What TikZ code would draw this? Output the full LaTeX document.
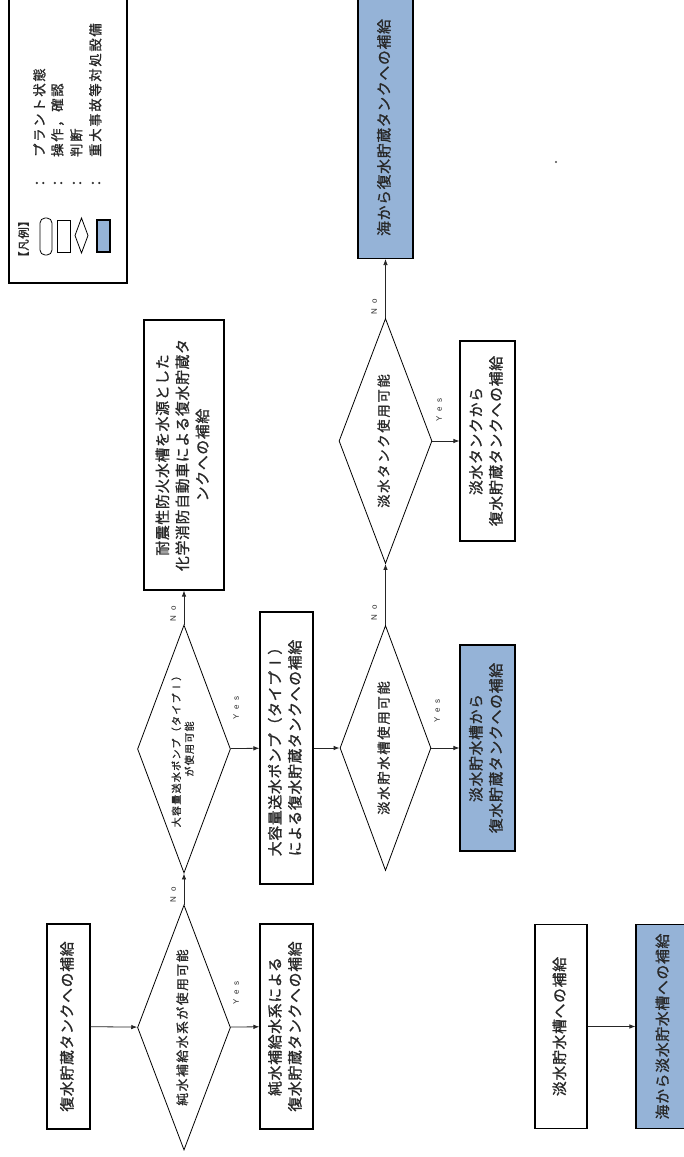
\documentclass[tikz,border=0pt]{standalone}
\usepackage{fontspec}
\usepackage{graphicx}
\usetikzlibrary{shapes.geometric,arrows.meta}
\newfontfamily\jpf[LetterSpace=5,FakeBold=1.2]{Noto Sans CJK JP}
\newfontfamily\jpl[LetterSpace=13,FakeBold=1.2]{Noto Sans CJK JP}
\newfontfamily\lblf[LetterSpace=60]{Liberation Sans}
\newcommand\vtext[1]{\rotatebox{90}{\begin{tabular}{@{}c@{}}#1\end{tabular}}}
\definecolor{seablue}{RGB}{149,179,215}
\definecolor{txt}{RGB}{40,40,40}
\begin{document}
\begin{tikzpicture}[x=1pt,y=-1pt,
  box/.style={draw=black,line width=1.1pt,fill=white,inner sep=0pt,text=txt,
     font=\jpf\fontsize{14.8}{20}\selectfont},
  seabox/.style={box,fill=seablue},
  dia/.style={draw=black,shape=diamond,aspect=0.38,inner sep=0pt,line width=0.8pt,
     minimum width=93pt,minimum height=245pt,text=txt,font=\jpl\fontsize{13.3}{16}\selectfont},
  arr/.style={-{Latex[length=6pt,width=4.5pt]},line width=0.8pt,draw=black!85},
  lbl/.style={inner sep=0pt,text=txt,font=\lblf\fontsize{8}{9}\selectfont},
  legtxt/.style={inner sep=0pt,text=txt,font=\jpl\fontsize{13.3}{15}\selectfont}]
\useasboundingbox (0,0) rectangle (684,1157);
\fill[white] (0,0) rectangle (684,1157);

% legend
\node[draw=black,line width=1.1pt,fill=white,minimum width=118pt,minimum height=286pt,inner sep=0pt] (legend) at (68,140) {};
\node[legtxt,font=\jpf\fontsize{11.5}{13}\selectfont] (legh) at (25,239) {\vtext{【凡例】}};
\draw[line width=0.8pt,rounded corners=5pt] (40,218) rectangle (52,255);
\draw[line width=0.8pt] (57,220) rectangle (70,252);
\draw[line width=0.8pt] (81.5,218) -- (88,235.5) -- (81.5,253) -- (75,235.5) -- cycle;
\draw[line width=1.1pt,fill=seablue] (97,220) rectangle (110,252);
\node[legtxt] (c1) at (42,183) {\vtext{：}};
\node[legtxt] (c2) at (60,183) {\vtext{：}};
\node[legtxt] (c3) at (79,183) {\vtext{：}};
\node[legtxt] (c4) at (98,183) {\vtext{：}};
\node[legtxt,anchor=south] (l1) at (41,157) {\vtext{プラント状態}};
\node[legtxt,anchor=south] (l2) at (59,157) {\vtext{操作，確認}};
\node[legtxt,anchor=south] (l3) at (78,157) {\vtext{判断}};
\node[legtxt,anchor=south] (l4) at (97,157) {\vtext{重大事故等対処設備}};

% main flow
\node[box,minimum width=43pt,minimum height=205pt] (start) at (68.5,1026.5) {\vtext{復水貯蔵タンクへの補給}};
\node[dia,font=\jpl\fontsize{12.7}{15}\selectfont] (d1) at (184,1027.5) {\vtext{純水補給水系が使用可能}};
\node[box,minimum width=53pt,minimum height=205pt] (yes1) at (286.5,1026.5) {\vtext{純水補給水系による\\復水貯蔵タンクへの補給}};
\node[dia,minimum height=248pt,font=\jpl\fontsize{10}{13}\selectfont] (d2) at (184,749) {\vtext{大容量送水ポンプ（タイプⅠ）\\が使用可能}};
\node[box,minimum width=80pt,minimum height=270pt] (fire) at (184,455) {\vtext{耐震性防火水槽を水源とした\\化学消防自動車による復水貯蔵タ\\ンクへの補給}};
\node[box,minimum width=53pt,minimum height=272pt] (pump) at (286.5,748) {\vtext{大容量送水ポンプ（タイプⅠ）\\による復水貯蔵タンクへの補給}};
\node[dia,minimum width=91pt] (d3) at (385.5,748) {\vtext{淡水貯水槽使用可能}};
\node[seabox,minimum width=55pt,minimum height=206pt] (pond) at (487.5,748) {\vtext{淡水貯水槽から\\復水貯蔵タンクへの補給}};
\node[dia] (d4) at (385.5,441) {\vtext{淡水タンク使用可能}};
\node[box,minimum width=55pt,minimum height=200pt] (ftank) at (487.5,441) {\vtext{淡水タンクから\\復水貯蔵タンクへの補給}};
\node[seabox,minimum width=55pt,minimum height=262pt] (seaC) at (385.5,127.5) {\vtext{海から復水貯蔵タンクへの補給}};

\node[box,minimum width=52pt,minimum height=204pt] (pondS) at (561,1026.5) {\vtext{淡水貯水槽への補給}};
\node[seabox,minimum width=56pt,minimum height=204pt] (seaP) at (664,1026.5) {\vtext{海から淡水貯水槽への補給}};

% connectors
\draw[arr] (start) -- (d1);
\draw[arr] (d1) -- (yes1);
\draw[arr] (d1) -- (d2);
\draw[arr] (d2) -- (fire);
\draw[arr] (d2) -- (pump);
\draw[arr] (pump) -- (d3);
\draw[arr] (d3) -- (pond);
\draw[arr] (d3) -- (d4);
\draw[arr] (d4) -- (ftank);
\draw[arr] (d4) -- (seaC);
\draw[arr] (pondS) -- (seaP);

% labels
\node[lbl] (y1) at (237,993) {\vtext{Yes}};
\node[lbl] (n1) at (174,895) {\vtext{No}};
\node[lbl] (y2) at (237,708) {\vtext{Yes}};
\node[lbl] (n2) at (174,614) {\vtext{No}};
\node[lbl] (y3) at (438,711) {\vtext{Yes}};
\node[lbl] (n3) at (375,613) {\vtext{No}};
\node[lbl] (y4) at (440,410) {\vtext{Yes}};
\node[lbl] (n4) at (375,307) {\vtext{No}};

% stray dot
\fill[black!70] (556,162) circle (1.2pt);
\end{tikzpicture}
\end{document}
